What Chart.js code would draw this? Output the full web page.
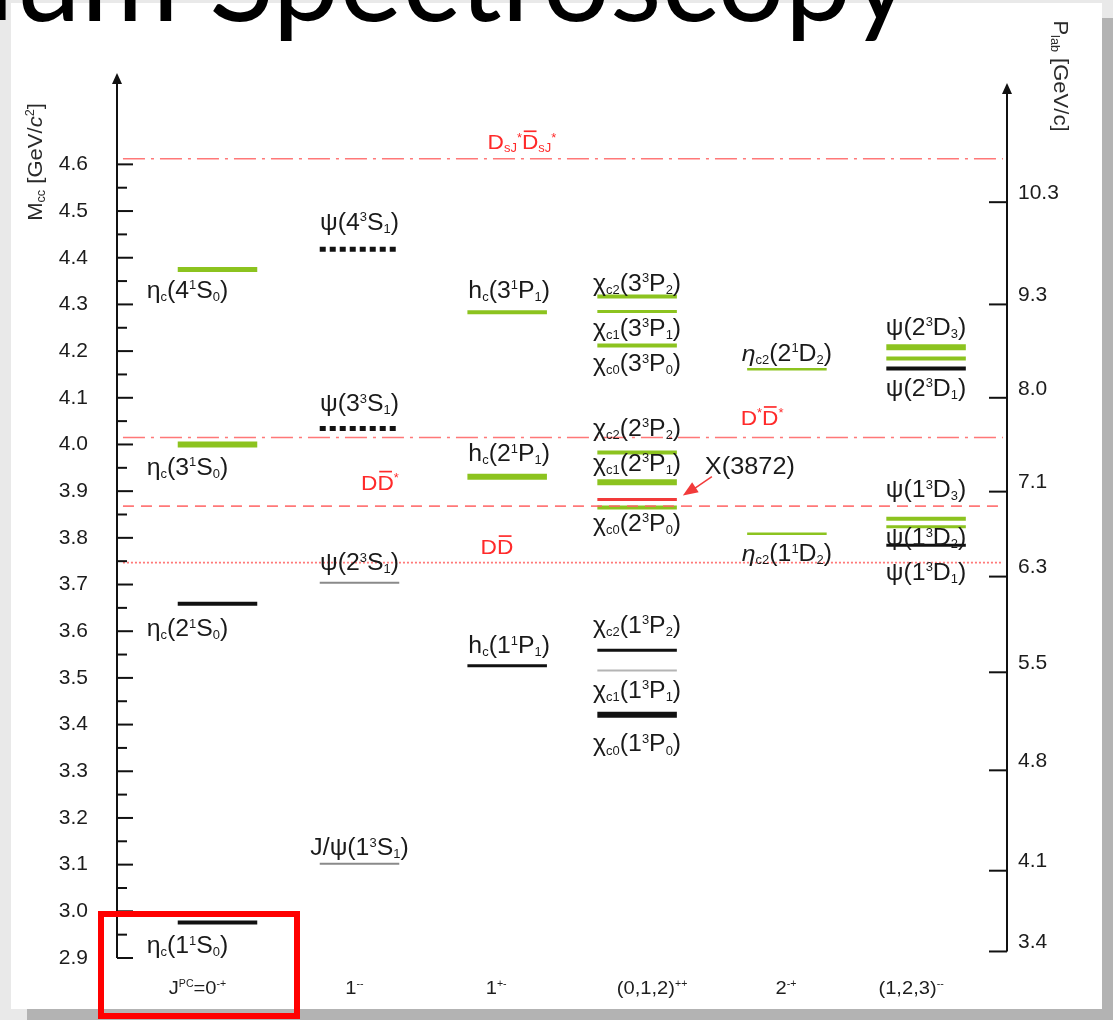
<!DOCTYPE html>
<html>
<head>
<meta charset="utf-8">
<script src="https://cdn.jsdelivr.net/npm/chart.js@4.4.1/dist/chart.umd.min.js"></script>
<style>
  html, body { margin: 0; padding: 0; }
  body { width: 1113px; height: 1020px; background: #e9e9e9; position: relative; overflow: hidden; }
  #shadow { position: absolute; left: 27px; top: 18px; right: 0; bottom: 0; background: #b3b3b3; }
  #slide { position: absolute; left: 11px; top: 3px; width: 1091px; height: 1006px; background: #fff; }
  #title { position: absolute; left: 0; top: -83px; font: 119px Lato, 'Open Sans', sans-serif; color: #000; white-space: nowrap; line-height: 1; }
  #bl { display: inline-block; width: 0; height: 0; }
  #chart { position: absolute; left: 0; top: 0; }
  #mark { position: absolute; left: 98px; top: 911px; width: 202px; height: 108px; box-sizing: border-box; border: 6px solid #ff0000; }
</style>
</head>
<body>
<div id="shadow"></div>
<div id="slide"></div>
<div id="title"><span>Charmonium </span><span id="t2">Spectroscopy</span><span id="bl"></span></div>
<canvas id="chart" width="1113" height="1020"></canvas>
<div id="mark"></div>
<script>
// ---- data ----
const COLUMN_LABELS = ['J^{PC}=0^{-+}', '1^{--}', '1^{+-}', '(0,1,2)^{++}', '2^{-+}', '(1,2,3)^{--}'];

const LEVEL_NAMES = [
  'η_{c}(1^{1}S_{0})', 'η_{c}(2^{1}S_{0})', 'η_{c}(3^{1}S_{0})', 'η_{c}(4^{1}S_{0})',
  'J/ψ(1^{3}S_{1})', 'ψ(2^{3}S_{1})', 'ψ(3^{3}S_{1})', 'ψ(4^{3}S_{1})',
  'h_{c}(1^{1}P_{1})', 'h_{c}(2^{1}P_{1})', 'h_{c}(3^{1}P_{1})',
  'χ_{c0}(1^{3}P_{0})', 'χ_{c1}(1^{3}P_{1})', 'χ_{c2}(1^{3}P_{2})',
  'χ_{c0}(2^{3}P_{0})', 'X(3872)', 'χ_{c1}(2^{3}P_{1})', 'χ_{c2}(2^{3}P_{2})',
  'χ_{c0}(3^{3}P_{0})', 'χ_{c1}(3^{3}P_{1})', 'χ_{c2}(3^{3}P_{2})',
  '~{η}_{c2}(1^{1}D_{2})', '~{η}_{c2}(2^{1}D_{2})',
  'ψ(1^{3}D_{1})', 'ψ(1^{3}D_{2})', 'ψ(1^{3}D_{3})',
  'ψ(2^{3}D_{1})', null, 'ψ(2^{3}D_{3})',
];
const LEVEL_COLUMN = [0, 0, 0, 0, 1, 1, 1, 1, 2, 2, 2, 3, 3, 3, 3, 3, 3, 3, 3, 3, 3, 4, 4, 5, 5, 5, 5, 5, 5];
const LEVEL_MASS = [
  2.976, 3.659, 4.000, 4.375,
  3.102, 3.704, 4.034, 4.418,
  3.526, 3.931, 4.283,
  3.421, 3.516, 3.559,
  3.865, 3.882, 3.919, 3.983,
  4.212, 4.285, 4.317,
  3.809, 4.161,
  3.784, 3.824, 3.841,
  4.163, 4.184, 4.208,
];

const THRESHOLD_NAMES = ['D_{sJ}^{*}|{D}_{sJ}^{*}', 'D^{*}|{D}^{*}', 'D|{D}^{*}', 'D|{D}'];
const THRESHOLD_MASS = [4.612, 4.015, 3.868, 3.747];

const MASS_TICKS = ['2.9', '3.0', '3.1', '3.2', '3.3', '3.4', '3.5', '3.6', '3.7', '3.8', '3.9',
  '4.0', '4.1', '4.2', '4.3', '4.4', '4.5', '4.6'];
const PLAB_TICKS = ['10.3', '9.3', '8.0', '7.1', '6.3', '5.5', '4.8', '4.1', '3.4'];
const PLAB_TICK_MASS = [4.519, 4.300, 4.100, 3.899, 3.717, 3.512, 3.302, 3.087, 2.914];

// ---- layout / styling ----
const FONT = "'Liberation Sans', Arial, Helvetica, sans-serif";
const X_MIN = -0.7077, X_MAX = 5.5599;
const COL_POS = [0, 1, 2.04, 2.955, 4.01, 4.99];
const COL_LABEL_DX = [-30, 0, 2, 0, 0, 0];
const COL_FOOT_DX = [-20, -5, -11, 15, -1, -15];
const HALF = 0.28;

const PENS = {
  black:  { color: '#111111' },
  green:  { color: '#8cc31f' },
  grey:   { color: '#8a8a8a' },
  light:  { color: '#b4b4b4' },
  red:    { color: '#f23a3a' },
  dotted: { color: '#111111', dash: [6, 4] },
};
const LEVEL_PEN = [
  'black', 'black', 'green', 'green',
  'grey', 'grey', 'dotted', 'dotted',
  'black', 'green', 'green',
  'black', 'light', 'black',
  'green', 'red', 'green', 'green',
  'green', 'green', 'green',
  'green', 'green',
  'black', 'green', 'green',
  'black', 'green', 'green',
];
const LEVEL_WIDTH = [4, 4, 6, 5, 2, 2, 5, 5, 3, 6, 4, 6, 2, 3, 4, 3, 6, 4, 4, 3, 4, 2.5, 2.5, 3, 3, 4, 4, 4, 6];
// vertical distance of each name from its level, px (null = drawn as a callout)
const LABEL_DY = [22, 24, 22, 20, -17, -21, -26, -28, -21, -24, -23, 28, 19, -26, 15, null, -20, -25, 17, 16, -14,
  19, -17, 26, 10, -30, 19, null, -21];
const CALLOUT = { level: 15, dx: 28, dy: -34 };

const THRESHOLD_DASH = [[22, 6, 3, 6], [22, 6, 3, 6], [11, 7], [2, 2]];
const THRESHOLD_LABEL_AT = [2.144, 3.835, 1.144, 1.968];
const THRESHOLD_LABEL_DY = [-17, -20, -24, -16];

function parseRich(str) {
  const re = /\^\{([^}]*)\}|_\{([^}]*)\}|\|\{([^}]*)\}|~\{([^}]*)\}|([^^_|~]+)/g;
  const out = [];
  let m;
  while ((m = re.exec(str))) {
    if (m[1] !== undefined) out.push({ t: m[1], k: 'sup' });
    else if (m[2] !== undefined) out.push({ t: m[2], k: 'sub' });
    else if (m[3] !== undefined) out.push({ t: m[3], k: 'bar' });
    else if (m[4] !== undefined) out.push({ t: m[4], k: 'it' });
    else out.push({ t: m[5], k: 'base' });
  }
  return out;
}

// text with sub/superscripts, centred on (x, y) unless align is 'left'
function drawRich(ctx, text, x, y, o) {
  const size = o.size;
  const small = Math.round(size * (o.small || 0.54));
  const parts = parseRich(text);
  const fontOf = p => (p.k === 'it' ? 'italic ' : '') + (p.k === 'sup' || p.k === 'sub' ? small : size) + 'px ' + FONT;
  ctx.save();
  let w = 0;
  for (const p of parts) { ctx.font = fontOf(p); p.w = ctx.measureText(p.t).width; w += p.w; }
  ctx.translate(x, y);
  if (o.rotate) ctx.rotate(o.rotate);
  ctx.scale(o.stretch || 1, 1);
  ctx.fillStyle = o.color;
  ctx.strokeStyle = o.color;
  ctx.textAlign = 'left';
  ctx.textBaseline = 'alphabetic';
  const base = size * 0.36;
  let cx = o.align === 'left' ? 0 : -w / 2;
  for (const p of parts) {
    ctx.font = fontOf(p);
    let dy = base;
    if (p.k === 'sup') dy = base - size * 0.36;
    else if (p.k === 'sub') dy = base + size * 0.15;
    ctx.fillText(p.t, cx, dy);
    if (p.k === 'bar') {
      const top = base - size * 0.86;
      ctx.lineWidth = Math.max(1.3, size * 0.08);
      ctx.beginPath();
      ctx.moveTo(cx + size * 0.08, top);
      ctx.lineTo(cx + p.w - size * 0.08, top);
      ctx.stroke();
    }
    cx += p.w;
  }
  ctx.restore();
}

function line(ctx, x1, y1, x2, y2) {
  ctx.beginPath();
  ctx.moveTo(x1, y1);
  ctx.lineTo(x2, y2);
  ctx.stroke();
}

function arrowUp(ctx, x, tipY) {
  ctx.beginPath();
  ctx.moveTo(x, tipY);
  ctx.lineTo(x - 5, tipY + 11);
  ctx.lineTo(x + 5, tipY + 11);
  ctx.closePath();
  ctx.fill();
}

const diagramPlugin = {
  id: 'levelDiagram',
  afterDatasetsDraw(chart) {
    const { ctx, scales: { x, y } } = chart;

    LEVEL_NAMES.forEach((name, i) => {
      if (!name || LABEL_DY[i] === null) return;
      const col = LEVEL_COLUMN[i];
      const cx = x.getPixelForValue(COL_POS[col]) + COL_LABEL_DX[col];
      const cy = y.getPixelForValue(LEVEL_MASS[i]) + LABEL_DY[i];
      drawRich(ctx, name, cx, cy, { size: 23, color: '#1a1a1a', stretch: 1.08 });
    });

    // X(3872) callout with its arrow
    const c = CALLOUT.level;
    const ex = x.getPixelForValue(COL_POS[LEVEL_COLUMN[c]] + HALF);
    const ey = y.getPixelForValue(LEVEL_MASS[c]);
    drawRich(ctx, LEVEL_NAMES[c], ex + CALLOUT.dx, ey + CALLOUT.dy, { size: 23, color: '#1a1a1a', stretch: 1.1, align: 'left' });
    ctx.save();
    ctx.strokeStyle = ctx.fillStyle = '#f23a3a';
    ctx.lineWidth = 1.5;
    const tx = ex + 6, ty = ey - 4, sx = ex + 35, sy = ey - 23;
    line(ctx, sx, sy, tx + 10, ty - 6);
    const a = Math.atan2(ty - sy, tx - sx);
    ctx.beginPath();
    ctx.moveTo(tx, ty);
    ctx.lineTo(tx - 15 * Math.cos(a) + 6 * Math.sin(a), ty - 15 * Math.sin(a) - 6 * Math.cos(a));
    ctx.lineTo(tx - 15 * Math.cos(a) - 6 * Math.sin(a), ty - 15 * Math.sin(a) + 6 * Math.cos(a));
    ctx.closePath();
    ctx.fill();
    ctx.restore();

    THRESHOLD_NAMES.forEach((name, i) => {
      drawRich(ctx, name, x.getPixelForValue(THRESHOLD_LABEL_AT[i]),
        y.getPixelForValue(THRESHOLD_MASS[i]) + THRESHOLD_LABEL_DY[i],
        { size: 21, color: '#ff2a2a', stretch: 1.08, small: 0.55 });
    });
  },
  afterDraw(chart) {
    const { ctx, chartArea, scales: { x, y, y2 } } = chart;
    ctx.save();
    ctx.strokeStyle = ctx.fillStyle = '#111';
    ctx.lineWidth = 2;

    // mass axis with inward ticks
    const lx = chartArea.left;
    const yBottom = y.getPixelForValue(+MASS_TICKS[0]);
    line(ctx, lx, yBottom, lx, chartArea.top + 6);
    arrowUp(ctx, lx, chartArea.top + 2);
    MASS_TICKS.forEach((t, i) => {
      const py = y.getPixelForValue(+t);
      line(ctx, lx, py, lx + 16, py);
      if (i < MASS_TICKS.length - 1) {
        const my = y.getPixelForValue((+t + +MASS_TICKS[i + 1]) / 2);
        line(ctx, lx, my, lx + 10, my);
      }
    });

    // beam momentum axis
    const rx = chartArea.right;
    const rBottom = y2.getPixelForValue(PLAB_TICK_MASS[PLAB_TICK_MASS.length - 1]);
    line(ctx, rx, rBottom, rx, chartArea.top + 16);
    arrowUp(ctx, rx, chartArea.top + 12);
    PLAB_TICK_MASS.forEach(m => {
      const py = y2.getPixelForValue(m);
      line(ctx, rx - 18, py, rx, py);
    });
    ctx.restore();

    drawRich(ctx, 'M_{cc} [GeV/~{c}^{2}]', 34, 162, { size: 21, color: '#2a2a2a', stretch: 1.05, rotate: -Math.PI / 2, small: 0.55 });
    drawRich(ctx, 'P_{lab} [GeV/c]', 1062, 76, { size: 21, color: '#2a2a2a', stretch: 1.05, rotate: Math.PI / 2, small: 0.55 });

    COLUMN_LABELS.forEach((lab, i) => {
      drawRich(ctx, lab, x.getPixelForValue(COL_POS[i]) + COL_FOOT_DX[i], 987,
        { size: 19, color: '#1e1e1e', stretch: 1.06, small: 0.55 });
    });
  },
};

const levelSets = LEVEL_MASS.map((m, i) => {
  const c = COL_POS[LEVEL_COLUMN[i]];
  const pen = PENS[LEVEL_PEN[i]];
  return {
    data: [{ x: c - HALF, y: m }, { x: c + HALF, y: m }],
    borderColor: pen.color,
    borderWidth: LEVEL_WIDTH[i],
    borderDash: pen.dash || [],
    borderCapStyle: 'butt',
    pointRadius: 0,
    fill: false,
  };
});

const thresholdSets = THRESHOLD_MASS.map((m, i) => ({
  data: [{ x: X_MIN + 0.042, y: m }, { x: X_MAX - 0.028, y: m }],
  borderColor: 'rgba(255, 96, 96, 0.85)',
  borderWidth: 1.6,
  borderDash: THRESHOLD_DASH[i],
  borderCapStyle: 'butt',
  pointRadius: 0,
  fill: false,
}));

new Chart(document.getElementById('chart'), {
  type: 'line',
  data: { datasets: [...thresholdSets, ...levelSets] },
  options: {
    responsive: false,
    devicePixelRatio: 1,
    animation: false,
    events: [],
    layout: { padding: { top: 71, bottom: 62, left: 0, right: 0 } },
    plugins: { legend: { display: false }, tooltip: { enabled: false } },
    scales: {
      x: { type: 'linear', min: X_MIN, max: X_MAX, display: false },
      y: {
        type: 'linear', position: 'left', min: 2.9, max: 4.8,
        afterBuildTicks: s => { s.ticks = MASS_TICKS.map(t => ({ value: +t })); },
        afterFit: s => { s.width = 117; },
        grid: { display: false, drawTicks: false },
        border: { display: false },
        ticks: {
          autoSkip: false, padding: 29, color: '#1c1c1c',
          font: { family: FONT, size: 21 },
          callback: (v, i) => MASS_TICKS[i],
        },
      },
      y2: {
        type: 'linear', position: 'right', min: 2.9, max: 4.8,
        afterBuildTicks: s => { s.ticks = PLAB_TICK_MASS.map(m => ({ value: m })); },
        afterFit: s => { s.width = 106; },
        grid: { display: false, drawTicks: false },
        border: { display: false },
        ticks: {
          autoSkip: false, padding: 11, labelOffset: -9, color: '#1c1c1c',
          font: { family: FONT, size: 21 },
          callback: (v, i) => PLAB_TICKS[i],
        },
      },
    },
  },
  plugins: [diagramPlugin],
});

// slide heading, cut off by the top edge of the window
const title = document.getElementById('title');
title.style.left = (209 - document.getElementById('t2').offsetLeft) + 'px';
title.style.top = (21 - document.getElementById('bl').offsetTop) + 'px';
</script>
</body>
</html>
